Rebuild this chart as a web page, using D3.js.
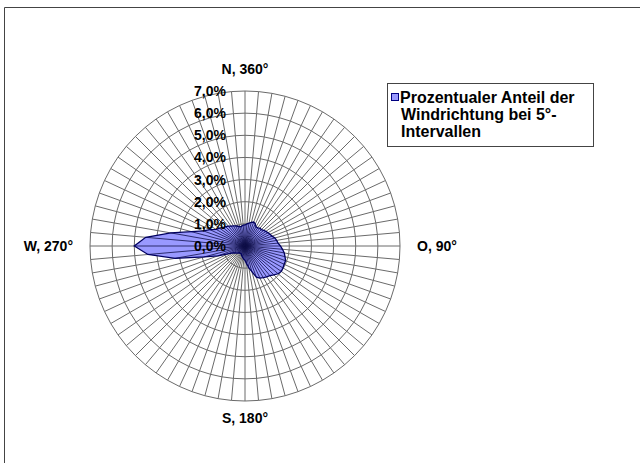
<!DOCTYPE html>
<html lang="de">
<head>
    <meta charset="UTF-8">
    <title>Windrichtung</title>
    <script src="https://d3js.org/d3.v7.min.js"></script>
    <style>
        body { margin: 0; background: #fff; }
        text { font-family: "Liberation Sans", Arial, sans-serif; font-weight: bold; fill: #000; }
    </style>
</head>
<body>
    <div id="chart"></div>
    <script>
        // Windrichtung in 5°-Schritten (0 = Norden, im Uhrzeigersinn)
        const directions = d3.range(0, 360, 5);
        // prozentualer Anteil je Richtung
        const shares = [
            0.95, 1.00, 1.05, 1.10, 1.15, 1.10, 1.00, 1.00, 1.05, 1.05, 1.10, 1.15, // 0-55
            1.20, 1.25, 1.30, 1.40, 1.45, 1.50, 1.60, 1.70, 1.80, 1.87, 1.95, 1.95, // 60-115
            1.98, 2.00, 1.95, 1.85, 1.75, 1.70, 1.65, 1.60, 1.50, 1.20, 1.00, 0.80, // 120-175
            0.65, 0.60, 0.55, 0.50, 0.45, 0.40, 0.40, 0.40, 0.40, 0.45, 0.50, 0.55, // 180-235
            0.63, 0.85, 1.30, 1.90, 3.20, 4.40, 5.00, 4.50, 3.40, 2.50, 2.00, 1.75, // 240-295
            1.50, 1.40, 1.30, 1.24, 1.17, 1.10, 1.05, 1.00, 0.95, 0.90, 0.90, 0.95  // 300-355
        ];
        const ticks = [0, 1, 2, 3, 4, 5, 6, 7];
        const axisLabels = [
            { angle: 0, text: 'N, 360°' },
            { angle: 90, text: 'O, 90°' },
            { angle: 180, text: 'S, 180°' },
            { angle: 270, text: 'W, 270°' }
        ];
        const legendLines = ['Prozentualer Anteil der', 'Windrichtung bei 5°-', 'Intervallen'];

        const width = 640, height = 463;
        const cx = 245, cy = 246;

        const svg = d3.select('#chart').append('svg')
            .attr('width', width)
            .attr('height', height);

        // Rahmen (oben und links sichtbar)
        svg.append('path')
            .attr('d', 'M4.5,463 V7.5 H640')
            .attr('fill', 'none')
            .attr('stroke', '#444')
            .attr('stroke-width', 1);

        const r = d3.scaleLinear().domain([0, 7]).range([0, 155]);
        const a = d3.scaleLinear().domain([0, 360]).range([0, 2 * Math.PI]);

        const g = svg.append('g')
            .attr('transform', 'translate(' + cx + ',' + cy + ')');

        // Ringe als 72-Ecke
        const ring = d3.lineRadial()
            .angle(d => a(d))
            .curve(d3.curveLinearClosed);

        g.append('g')
            .selectAll('path')
            .data(ticks.slice(1))
            .enter().append('path')
            .attr('d', t => ring.radius(r(t))(directions))
            .attr('fill', 'none')
            .attr('stroke', '#6a6a6a')
            .attr('stroke-width', 1);

        // Speichen
        const spokes = (sel, color, width) => sel.selectAll('line')
            .data(directions)
            .enter().append('line')
            .attr('x1', 0)
            .attr('y1', 0)
            .attr('x2', d => r(7) * Math.sin(a(d)))
            .attr('y2', d => -r(7) * Math.cos(a(d)))
            .attr('stroke', color)
            .attr('stroke-width', width);

        spokes(g.append('g'), '#6a6a6a', 1);

        // Datenfläche
        const area = d3.lineRadial()
            .angle((d, i) => a(directions[i]))
            .radius(d => r(d))
            .curve(d3.curveLinearClosed);

        g.append('clipPath')
            .attr('id', 'area-clip')
            .append('path')
            .datum(shares)
            .attr('d', area);

        g.append('path')
            .datum(shares)
            .attr('d', area)
            .attr('fill', '#9999ff');

        // dunkle Speichen innerhalb der Fläche
        spokes(g.append('g').attr('clip-path', 'url(#area-clip)'), '#10104a', 1)
            .attr('stroke-opacity', 0.8);

        g.append('path')
            .datum(shares)
            .attr('d', area)
            .attr('fill', 'none')
            .attr('stroke', '#000060')
            .attr('stroke-width', 1.3);

        // Skalenbeschriftung
        g.append('g')
            .selectAll('text')
            .data(ticks)
            .enter().append('text')
            .attr('x', -19)
            .attr('y', t => -r(t))
            .attr('dy', '0.36em')
            .attr('text-anchor', 'end')
            .style('font-size', '14px')
            .text(t => d3.format('.1f')(t).replace('.', ',') + '%');

        // Himmelsrichtungen
        const labelPos = {
            0: { x: 0, y: -r(7) - 22, anchor: 'middle' },
            90: { x: r(7) + 17, y: 0, anchor: 'start' },
            180: { x: 0, y: r(7) + 17, anchor: 'middle' },
            270: { x: -r(7) - 17, y: 0, anchor: 'end' }
        };
        g.append('g')
            .selectAll('text')
            .data(axisLabels)
            .enter().append('text')
            .attr('x', d => labelPos[d.angle].x)
            .attr('y', d => labelPos[d.angle].y)
            .attr('dy', '0.36em')
            .attr('text-anchor', d => labelPos[d.angle].anchor)
            .style('font-size', '14px')
            .text(d => d.text);

        // Legende
        const legend = svg.append('g').attr('transform', 'translate(387,83)');
        legend.append('rect')
            .attr('x', 0.5).attr('y', 0.5)
            .attr('width', 206).attr('height', 63)
            .attr('fill', '#fff')
            .attr('stroke', '#444');
        legend.append('rect')
            .attr('x', 4.5).attr('y', 10.5)
            .attr('width', 7).attr('height', 7)
            .attr('fill', '#9999ff')
            .attr('stroke', '#000080');
        legend.append('g')
            .selectAll('text')
            .data(legendLines)
            .enter().append('text')
            .attr('x', 0)
            .attr('y', (d, i) => 20 + i * 17)
            .attr('dx', (d, i) => i === 0 ? 13 : 14)
            .style('font-size', '16px')
            .text(d => d);
    </script>
</body>
</html>
